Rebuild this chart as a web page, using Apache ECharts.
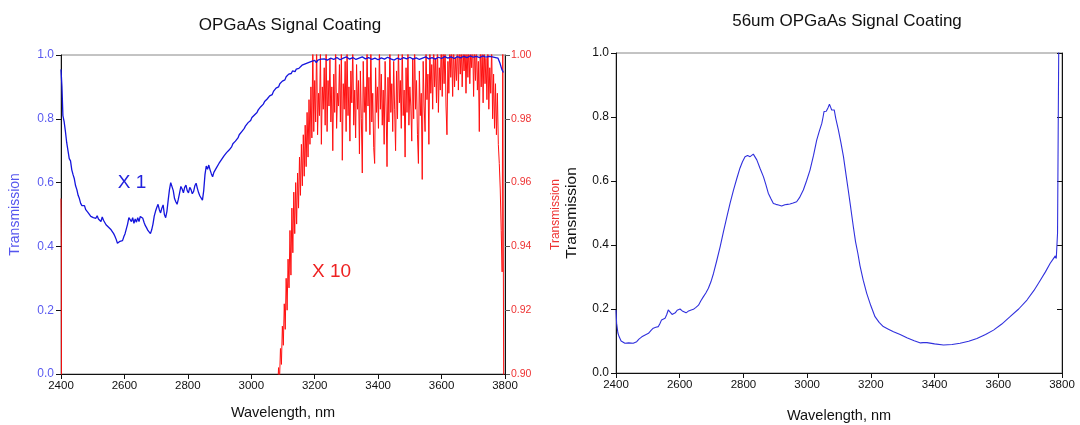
<!DOCTYPE html>
<html>
<head>
<meta charset="utf-8">
<script src="https://cdn.jsdelivr.net/npm/echarts@6/dist/echarts.min.js"></script>
<style>
html,body{margin:0;padding:0;background:#fff;}
#main{width:1080px;height:425px;}
</style>
</head>
<body>
<div id="main"></div>
<script>
// left panel, X1 trace (left axis 0..1)
var leftBlue = [
[2400,0.955],[2403,0.90],[2406,0.81],[2410,0.79],[2414,0.76],[2418,0.725],[2422,0.70],[2426,0.675],[2430,0.668],[2434,0.64],[2438,0.625],[2442,0.612],[2446,0.59],[2450,0.578],[2454,0.56],[2458,0.55],[2462,0.535],[2466,0.528],[2470,0.524],[2474,0.528],[2478,0.515],[2482,0.518],[2486,0.505],[2490,0.502],[2494,0.494],[2498,0.498],[2502,0.49],[2506,0.494],[2510,0.488],[2514,0.496],[2518,0.486],[2522,0.49],[2526,0.478],[2530,0.492],[2534,0.482],[2538,0.476],[2542,0.468],[2546,0.47],[2550,0.46],[2554,0.462],[2558,0.452],[2562,0.448],[2566,0.44],[2570,0.432],[2574,0.422],[2578,0.41],[2582,0.408],[2586,0.416],[2590,0.41],[2594,0.418],[2598,0.43],[2602,0.44],[2606,0.455],[2610,0.47],[2614,0.49],[2618,0.496],[2622,0.478],[2626,0.49],[2630,0.472],[2634,0.486],[2638,0.476],[2642,0.49],[2646,0.478],[2650,0.494],[2654,0.5],[2658,0.488],[2662,0.475],[2666,0.465],[2670,0.458],[2674,0.45],[2678,0.444],[2682,0.44],[2686,0.452],[2690,0.47],[2694,0.495],[2698,0.51],[2702,0.522],[2706,0.532],[2710,0.515],[2714,0.505],[2718,0.52],[2722,0.53],[2726,0.5],[2730,0.49],[2734,0.51],[2738,0.545],[2742,0.578],[2746,0.6],[2750,0.598],[2754,0.575],[2758,0.55],[2762,0.54],[2766,0.532],[2770,0.548],[2774,0.568],[2778,0.588],[2782,0.58],[2786,0.568],[2790,0.585],[2794,0.592],[2798,0.575],[2802,0.568],[2806,0.585],[2810,0.578],[2814,0.565],[2818,0.572],[2822,0.59],[2826,0.598],[2830,0.582],[2834,0.568],[2838,0.558],[2842,0.552],[2846,0.545],[2850,0.575],[2854,0.625],[2858,0.652],[2862,0.642],[2866,0.655],[2870,0.64],[2874,0.628],[2878,0.618],[2882,0.632],[2886,0.638],[2890,0.646],[2894,0.652],[2898,0.66],[2902,0.664],[2906,0.672],[2910,0.676],[2914,0.684],[2918,0.682],[2922,0.694],[2926,0.69],[2930,0.702],[2934,0.708],[2938,0.712],[2942,0.722],[2946,0.718],[2950,0.73],[2954,0.736],[2958,0.74],[2962,0.75],[2966,0.748],[2970,0.76],[2974,0.766],[2978,0.77],[2982,0.778],[2986,0.776],[2990,0.788],[2994,0.792],[2998,0.795],[3002,0.804],[3006,0.802],[3010,0.812],[3014,0.818],[3018,0.82],[3022,0.828],[3026,0.826],[3030,0.838],[3034,0.842],[3038,0.846],[3042,0.854],[3046,0.852],[3050,0.862],[3054,0.866],[3058,0.872],[3062,0.878],[3066,0.876],[3070,0.886],[3074,0.89],[3078,0.896],[3082,0.902],[3086,0.9],[3090,0.91],[3094,0.914],[3098,0.918],[3102,0.924],[3106,0.922],[3110,0.932],[3114,0.936],[3118,0.94],[3122,0.944],[3126,0.942],[3130,0.95],[3134,0.952],[3138,0.948],[3142,0.956],[3146,0.96],[3150,0.958],[3155,0.964],[3160,0.968],[3165,0.962],[3170,0.972],[3175,0.97],[3180,0.976],[3185,0.972],[3190,0.98],[3195,0.978],[3200,0.983],[3205,0.976],[3210,0.984],[3215,0.98],[3220,0.987],[3225,0.982],[3230,0.988],[3240,0.984],[3250,0.99],[3260,0.986],[3270,0.992],[3280,0.985],[3290,0.99],[3300,0.994],[3310,0.987],[3320,0.992],[3330,0.986],[3340,0.99],[3350,0.994],[3360,0.988],[3370,0.992],[3380,0.986],[3390,0.99],[3400,0.985],[3410,0.991],[3420,0.987],[3430,0.993],[3440,0.988],[3450,0.984],[3460,0.99],[3470,0.986],[3480,0.992],[3490,0.988],[3500,0.993],[3510,0.987],[3520,0.991],[3530,0.986],[3540,0.99],[3550,0.994],[3560,0.988],[3570,0.992],[3580,0.987],[3590,0.993],[3600,0.989],[3610,0.995],[3620,0.99],[3630,0.994],[3640,0.989],[3650,0.995],[3660,0.991],[3670,0.996],[3680,0.992],[3690,0.997],[3700,0.993],[3710,0.996],[3720,0.992],[3730,0.997],[3740,0.993],[3750,0.996],[3760,0.994],[3770,0.992],[3778,0.99],[3784,0.975],[3790,0.955],[3795,0.945]
];

// left panel, X10 trace (right axis 0.90..1.00)
var leftRed = [
[2400,0.955],[2401,0.94],[2402,0.85],
[3080,0.880],[3083,0.895],[3086,0.902],[3089,0.898],[3092,0.908],[3095,0.903],[3098,0.915],[3101,0.909],[3104,0.922],[3107,0.914],[3110,0.930],[3113,0.920],[3116,0.936],[3119,0.927],[3122,0.945],[3125,0.931],[3128,0.952],[3131,0.938],[3134,0.957],[3137,0.944],[3140,0.960],[3143,0.947],[3146,0.963],[3149,0.952],[3152,0.968],[3155,0.956],[3158,0.972],[3161,0.959],[3164,0.975],[3167,0.962],[3170,0.978],[3173,0.965],[3176,0.982],[3179,0.968],[3182,0.986],[3185,0.972],[3188,0.990],[3191,0.974],[3194,1.003],[3197,0.976],
[3200,0.992],[3203,0.979],[3206,1.004],[3209,0.975],[3212,0.988],[3215,0.981],[3218,1.002],[3221,0.972],[3224,0.990],[3227,0.983],[3230,0.996],[3233,0.978],[3236,1.003],[3239,0.976],[3242,0.992],[3245,0.984],[3248,0.999],[3251,0.979],[3254,0.990],[3257,0.970],[3260,0.994],[3263,0.982],[3266,1.004],[3269,0.977],[3272,0.988],[3275,0.984],[3278,0.997],[3281,0.979],[3284,1.002],[3287,0.967],[3290,0.991],[3293,0.983],[3296,0.998],[3299,0.976],
[3302,1.004],[3305,0.981],[3308,0.990],[3311,0.973],[3314,0.995],[3317,0.985],[3320,1.003],[3323,0.978],[3326,0.989],[3329,0.974],[3332,0.997],[3335,0.983],[3338,0.992],[3341,0.969],[3344,0.995],[3347,0.980],[3350,0.963],[3353,0.998],[3356,0.982],[3359,0.990],[3362,0.976],[3365,1.003],[3368,0.984],[3371,0.993],[3374,0.975],[3377,1.004],[3380,0.979],[3383,0.988],[3386,0.971],[3389,0.966],[3392,0.996],[3395,0.982],[3398,0.990],
[3401,0.977],[3404,1.003],[3407,0.983],[3410,0.994],[3413,0.978],[3416,0.989],[3419,0.972],[3422,0.998],[3425,0.984],[3428,0.965],[3431,0.993],[3434,0.979],[3437,1.004],[3440,0.982],[3443,0.991],[3446,0.976],[3449,0.998],[3452,0.983],[3455,0.970],[3458,0.995],[3461,0.980],[3464,1.003],[3467,0.985],[3470,0.992],[3473,0.977],[3476,1.004],[3479,0.981],[3482,0.989],[3485,0.968],[3488,0.996],[3491,0.982],[3494,1.002],[3497,0.978],
[3500,0.990],[3503,0.984],[3506,0.973],[3509,0.999],[3512,0.980],[3515,1.004],[3518,0.983],[3521,0.992],[3524,0.975],[3527,0.966],[3530,0.995],[3533,0.981],[3536,0.988],[3539,0.961],[3542,0.998],[3545,0.984],[3548,0.976],[3551,1.003],[3554,0.986],[3557,0.994],[3560,0.972],[3563,1.004],[3566,0.988],[3569,0.997],[3572,0.983],[3575,1.005],[3578,0.990],[3581,0.999],[3584,0.985],[3587,1.004],[3590,0.982],[3593,0.996],[3596,0.989],[3599,1.005],
[3602,0.987],[3605,1.002],[3608,0.991],[3611,1.004],[3614,0.984],[3617,0.975],[3620,0.998],[3623,0.988],[3626,1.005],[3629,0.993],[3632,1.002],[3635,0.987],[3638,1.004],[3641,0.990],[3644,0.999],[3647,0.992],[3650,1.005],[3653,0.989],[3656,1.003],[3659,0.994],[3662,1.004],[3665,0.990],[3668,1.001],[3671,0.995],[3674,1.005],[3677,0.988],[3680,1.003],[3683,0.993],[3686,1.004],[3689,0.991],[3692,1.002],[3695,0.996],[3698,1.005],
[3701,0.987],[3704,1.003],[3707,0.992],[3710,1.004],[3713,0.989],[3716,0.998],[3719,0.976],[3722,1.004],[3725,0.990],[3728,1.002],[3731,0.985],[3734,1.005],[3737,0.991],[3740,0.999],[3743,0.986],[3746,1.004],[3749,0.983],[3752,0.996],[3755,0.988],[3758,1.003],[3761,0.980],[3764,0.994],[3767,0.977],[3770,0.991],[3773,0.975],[3776,0.988],[3779,0.972],[3782,0.966],[3785,0.958],[3788,0.945],[3791,0.932],[3793,1.005],[3797,0.85]
];

// right panel, 56um trace
var rightBlue = [
[2400,0.197],[2402,0.155],[2406,0.125],[2410,0.113],[2416,0.10],[2422,0.095],[2428,0.093],[2440,0.094],[2454,0.093],[2460,0.095],[2465,0.098],[2472,0.106],[2481,0.113],[2490,0.118],[2502,0.124],[2510,0.133],[2517,0.14],[2525,0.143],[2533,0.145],[2538,0.155],[2543,0.166],[2548,0.169],[2554,0.171],[2559,0.182],[2564,0.197],[2570,0.19],[2576,0.183],[2580,0.181],[2586,0.188],[2592,0.196],[2597,0.202],[2601,0.2],[2608,0.194],[2614,0.19],[2620,0.188],[2628,0.194],[2636,0.197],[2643,0.199],[2651,0.205],[2659,0.212],[2666,0.225],[2674,0.238],[2682,0.25],[2690,0.265],[2698,0.285],[2706,0.311],[2716,0.35],[2727,0.395],[2737,0.44],[2748,0.488],[2758,0.53],[2769,0.572],[2779,0.607],[2789,0.64],[2797,0.66],[2805,0.676],[2813,0.68],[2821,0.676],[2826,0.682],[2831,0.684],[2836,0.678],[2842,0.666],[2852,0.64],[2863,0.613],[2870,0.59],[2878,0.562],[2886,0.545],[2894,0.53],[2902,0.527],[2910,0.525],[2920,0.522],[2930,0.526],[2938,0.527],[2946,0.528],[2956,0.531],[2967,0.535],[2976,0.548],[2988,0.572],[2998,0.6],[3009,0.634],[3020,0.68],[3030,0.728],[3038,0.755],[3046,0.78],[3050,0.8],[3053,0.817],[3060,0.818],[3066,0.83],[3070,0.84],[3074,0.83],[3077,0.822],[3081,0.826],[3085,0.822],[3090,0.795],[3098,0.76],[3106,0.72],[3114,0.676],[3122,0.62],[3129,0.572],[3137,0.515],[3145,0.457],[3152,0.41],[3159,0.375],[3166,0.335],[3176,0.29],[3187,0.249],[3200,0.21],[3213,0.176],[3226,0.158],[3239,0.145],[3255,0.137],[3271,0.129],[3292,0.12],[3313,0.11],[3336,0.101],[3356,0.094],[3360,0.091],[3364,0.095],[3376,0.095],[3400,0.091],[3428,0.0875],[3455,0.089],[3480,0.093],[3507,0.099],[3533,0.108],[3560,0.12],[3585,0.134],[3611,0.153],[3637,0.176],[3664,0.2],[3690,0.228],[3712,0.258],[3732,0.29],[3748,0.316],[3763,0.343],[3772,0.356],[3779,0.366],[3782,0.358],[3784,0.353],[3786,0.437],[3788,0.75],[3790,1.05]
];

var xTicks = {min:2400, max:3800, interval:200};
var font = '"Liberation Sans", Arial, sans-serif';

var chart = echarts.init(document.getElementById('main'), null, {renderer:'canvas'});

function xAxisCfg(gi, gap){
	return {
		type:'value', gridIndex:gi, min:xTicks.min, max:xTicks.max, interval:xTicks.interval,
		name:'Wavelength, nm', nameLocation:'middle', nameGap:gap,
		nameTextStyle:{color:'#111', fontSize:14.5, fontFamily:font},
		axisLine:{onZero:false, lineStyle:{color:'#111', width:1}},
		axisTick:{show:true, length:5, lineStyle:{color:'#111'}},
		axisLabel:{color:'#111', fontSize:11.5, fontFamily:font, margin:6,
			formatter:function(v){return String(v);}},
		splitLine:{show:false}
	};
}

var option = {
	animation:false,
	backgroundColor:'#fff',
	title:[
		{text:'OPGaAs Signal Coating', left:285, top:12, textAlign:'center',
			textStyle:{fontSize:17, fontWeight:'normal', color:'#111', fontFamily:font}},
		{text:'56um OPGaAs Signal Coating', left:842, top:8, textAlign:'center',
			textStyle:{fontSize:17, fontWeight:'normal', color:'#111', fontFamily:font}}
	],
	grid:[
		{left:61, right:575, top:55, bottom:51, outerBoundsMode:'none', show:true, borderColor:'#888', borderWidth:1, backgroundColor:'transparent'},
		{left:616, right:18, top:53, bottom:52, outerBoundsMode:'none', show:true, borderColor:'#888', borderWidth:1, backgroundColor:'transparent'}
	],
	xAxis:[xAxisCfg(0, 31), xAxisCfg(1, 35)],
	yAxis:[
		{
			type:'value', gridIndex:0, position:'left', min:0, max:1, interval:0.2,
			name:'Transmission', nameLocation:'middle', nameGap:39,
			nameTextStyle:{color:'#5555ee', fontSize:14, fontFamily:font},
			axisLine:{show:true, lineStyle:{color:'#111'}},
			axisTick:{show:true, length:5, lineStyle:{color:'#111'}},
			axisLabel:{color:'#5a5af0', fontSize:12, fontFamily:font, margin:7,
				formatter:function(v){return v.toFixed(1);}},
			splitLine:{show:false}
		},
		{
			type:'value', gridIndex:0, position:'right', min:0.9, max:1.0, interval:0.02,
			name:'Transmission', nameLocation:'middle', nameGap:45,
			nameTextStyle:{color:'#ee3333', fontSize:12, fontFamily:font},
			axisLine:{show:true, lineStyle:{color:'#111'}},
			axisTick:{show:true, length:5, lineStyle:{color:'#555'}},
			axisLabel:{color:'#ee3333', fontSize:10.5, fontFamily:font, margin:6,
				formatter:function(v){return v.toFixed(2);}},
			splitLine:{show:false}
		},
		{
			type:'value', gridIndex:1, position:'left', min:0, max:1, interval:0.2,
			name:'Transmission', nameLocation:'middle', nameGap:36,
			nameTextStyle:{color:'#111', fontSize:15.5, fontFamily:font},
			axisLine:{show:true, lineStyle:{color:'#111'}},
			axisTick:{show:true, length:5, lineStyle:{color:'#111'}},
			axisLabel:{color:'#111', fontSize:12, fontFamily:font, margin:7,
				formatter:function(v){return v.toFixed(1);}},
			splitLine:{show:false}
		},
		{
			type:'value', gridIndex:1, position:'right', min:0, max:1, interval:0.2,
			axisLine:{show:true, lineStyle:{color:'#111'}},
			axisTick:{show:true, inside:true, length:5, lineStyle:{color:'#111'}},
			axisLabel:{show:false},
			splitLine:{show:false}
		}
	],
	series:[
		{
			type:'line', xAxisIndex:0, yAxisIndex:1, data:leftRed, showSymbol:false, clip:true,
			lineStyle:{color:'#ff1010', width:1}, z:2,
			markPoint:{symbol:'rect', symbolSize:1, itemStyle:{color:'transparent'},
				data:[{coord:[3253,0.932], value:'X 10',
					label:{show:true, position:'inside', formatter:'X 10', color:'#ee2222', fontSize:19, fontFamily:font}}]}
		},
		{
			type:'line', xAxisIndex:0, yAxisIndex:0, data:leftBlue, showSymbol:false, clip:true,
			lineStyle:{color:'#1515dd', width:1.3}, z:3,
			markPoint:{symbol:'rect', symbolSize:1, itemStyle:{color:'transparent'},
				data:[{coord:[2624,0.60], value:'X 1',
					label:{show:true, position:'inside', formatter:'X 1', color:'#2222dd', fontSize:19, fontFamily:font}}]}
		},
		{
			type:'line', xAxisIndex:1, yAxisIndex:2, data:rightBlue, showSymbol:false, clip:true,
			lineStyle:{color:'#3030dd', width:1.1}, z:3
		}
	]
};
chart.setOption(option);
</script>
</body>
</html>
